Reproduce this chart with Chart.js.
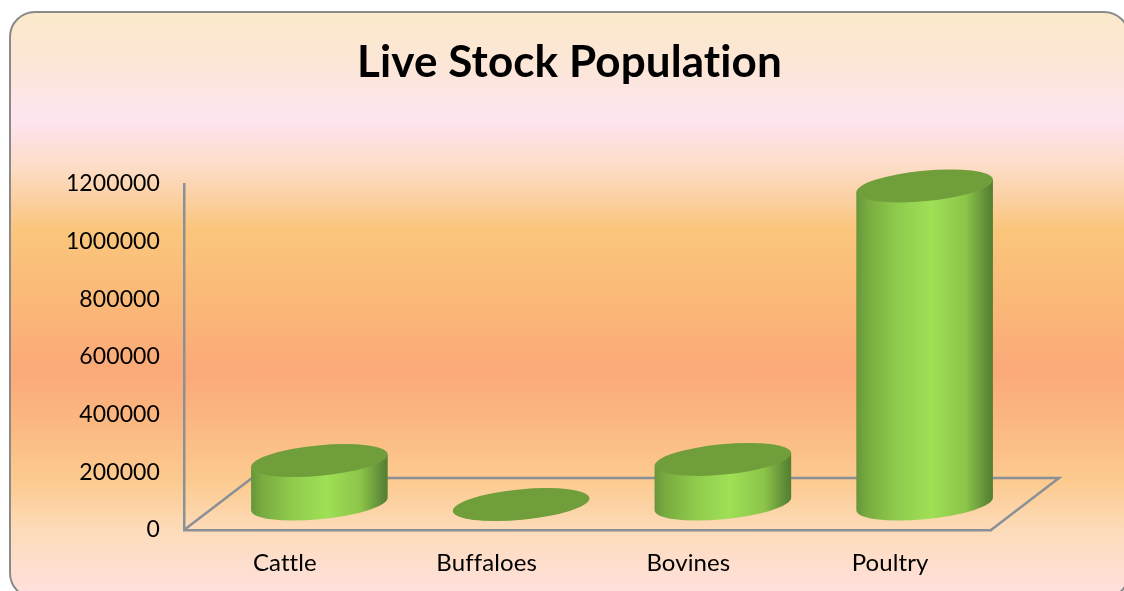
<!DOCTYPE html>
<html>
<head>
<meta charset="utf-8">
<script src="https://cdn.jsdelivr.net/npm/chart.js@4"></script>
<style>
  html, body { margin: 0; padding: 0; background: #fff; overflow: hidden; }
  #page { position: relative; width: 1124px; height: 591px; overflow: hidden; }
  #card {
    position: absolute; left: 9px; top: 11px; width: 1121px; height: 588px;
    box-sizing: border-box; border: 2px solid #8a8a8a; border-radius: 26px; overflow: hidden;
    background: linear-gradient(180deg,
      #fbe9cb 0px, #fce6d6 50px, #fde5f0 107px, #fde0e0 125px, #fddcc4 156px,
      #fbcf9e 189px, #fbc67c 216px, #fab878 290px, #fba978 358px, #fbb880 410px,
      #fccb90 470px, #fddcbc 520px, #ffe0dc 580px);
  }
  canvas { position: absolute; left: -2px; top: -2px; }
</style>
</head>
<body>
<div id="page"><div id="card"><canvas id="chart" width="1121" height="588"></canvas></div></div>
<script>
const categories = ["Cattle", "Buffaloes", "Bovines", "Poultry"];
const population = [154000, 1500, 158000, 1106000];
const yTicks = [0, 200000, 400000, 600000, 800000, 1000000, 1200000];

const axisColor = "#8b9097";

// floor of the fake 3d box, and how far the bars sit back on it
const floorDx = 68, floorDy = 52;
const barDx = 34.5, barDy = 25;
const tilt = -5.5 * Math.PI / 180;

const cylinders = {
  id: "cylinders",
  beforeDraw(chart) {
    // stops the "ti" ligature in the title
    chart.ctx.letterSpacing = "0.1px";
  },
  beforeDatasetsDraw(chart) {
    const { ctx, chartArea: a } = chart;
    ctx.save();
    ctx.strokeStyle = axisColor;
    ctx.lineWidth = 2.5;
    ctx.beginPath();
    ctx.moveTo(a.left, a.bottom);
    ctx.lineTo(a.left + floorDx, a.bottom - floorDy);
    ctx.lineTo(a.right + floorDx, a.bottom - floorDy);
    ctx.lineTo(a.right, a.bottom);
    ctx.stroke();
    ctx.restore();
  },
  afterDatasetsDraw(chart) {
    const { ctx } = chart;
    chart.getDatasetMeta(0).data.forEach((bar) => {
      const cx = bar.x + barDx;
      const top = bar.y - barDy;
      const bottom = bar.base - barDy - 1;
      const rx = bar.width / 2;
      const ry = rx * 0.222;
      const t0 = Math.atan(-(ry / rx) * Math.tan(tilt));
      const ex = Math.hypot(rx * Math.cos(tilt), ry * Math.sin(tilt));
      const ey = (rx * rx - ry * ry) * Math.sin(tilt) * Math.cos(tilt) / ex;

      const g = ctx.createLinearGradient(cx - ex, 0, cx + ex, 0);
      g.addColorStop(0, "#66963a");
      g.addColorStop(0.08, "#78ab40");
      g.addColorStop(0.3, "#8fcb4c");
      g.addColorStop(0.55, "#9fe056");
      g.addColorStop(0.8, "#8cc549");
      g.addColorStop(0.95, "#5f8d38");
      g.addColorStop(1, "#527f31");

      ctx.save();
      ctx.fillStyle = g;
      ctx.beginPath();
      ctx.ellipse(cx, bottom, rx, ry, tilt, t0, t0 + Math.PI);
      ctx.lineTo(cx - ex, top - ey);
      ctx.lineTo(cx + ex, top + ey);
      ctx.closePath();
      ctx.fill();

      ctx.fillStyle = "#6f9e3a";
      ctx.beginPath();
      ctx.ellipse(cx, top, rx, ry, tilt, 0, Math.PI * 2);
      ctx.fill();
      ctx.restore();
    });
  },
};

new Chart(document.getElementById("chart"), {
  type: "bar",
  data: {
    labels: categories,
    datasets: [{ data: population, backgroundColor: "transparent", borderWidth: 0 }],
  },
  plugins: [cylinders],
  options: {
    responsive: false,
    animation: false,
    plugins: {
      legend: { display: false },
      tooltip: { enabled: false },
      title: {
        display: true,
        text: "Live Stock Population",
        color: "#000",
        font: { family: "Lato", size: 44, weight: "bold" },
        padding: { top: 25, bottom: 95 },
      },
    },
    datasets: { bar: { categoryPercentage: 1, barPercentage: 0.68 } },
    scales: {
      x: {
        grid: { display: false, drawTicks: false },
        border: { display: true, color: axisColor, width: 2.5 },
        ticks: { color: "#000", font: { family: "Lato", size: 24 }, padding: 19, maxRotation: 0 },
        afterFit(s) { s.height = 69; },
      },
      y: {
        min: 0,
        max: 1200000,
        grid: { display: false, drawTicks: false },
        border: { display: true, color: axisColor, width: 2.5 },
        afterBuildTicks(s) { s.ticks = yTicks.map((v) => ({ value: v })); },
        ticks: { color: "#000", font: { family: "Lato", size: 23 }, padding: 24, callback: (v) => String(v) },
        afterFit(s) { s.width = 175; },
      },
      // empty axis, keeps the room on the right for the floor
      spacer: {
        axis: "y",
        position: "right",
        grid: { display: false, drawTicks: false },
        border: { display: false },
        ticks: { display: false },
        afterFit(s) { s.width = 139; },
      },
    },
  },
});
</script>
</body>
</html>
